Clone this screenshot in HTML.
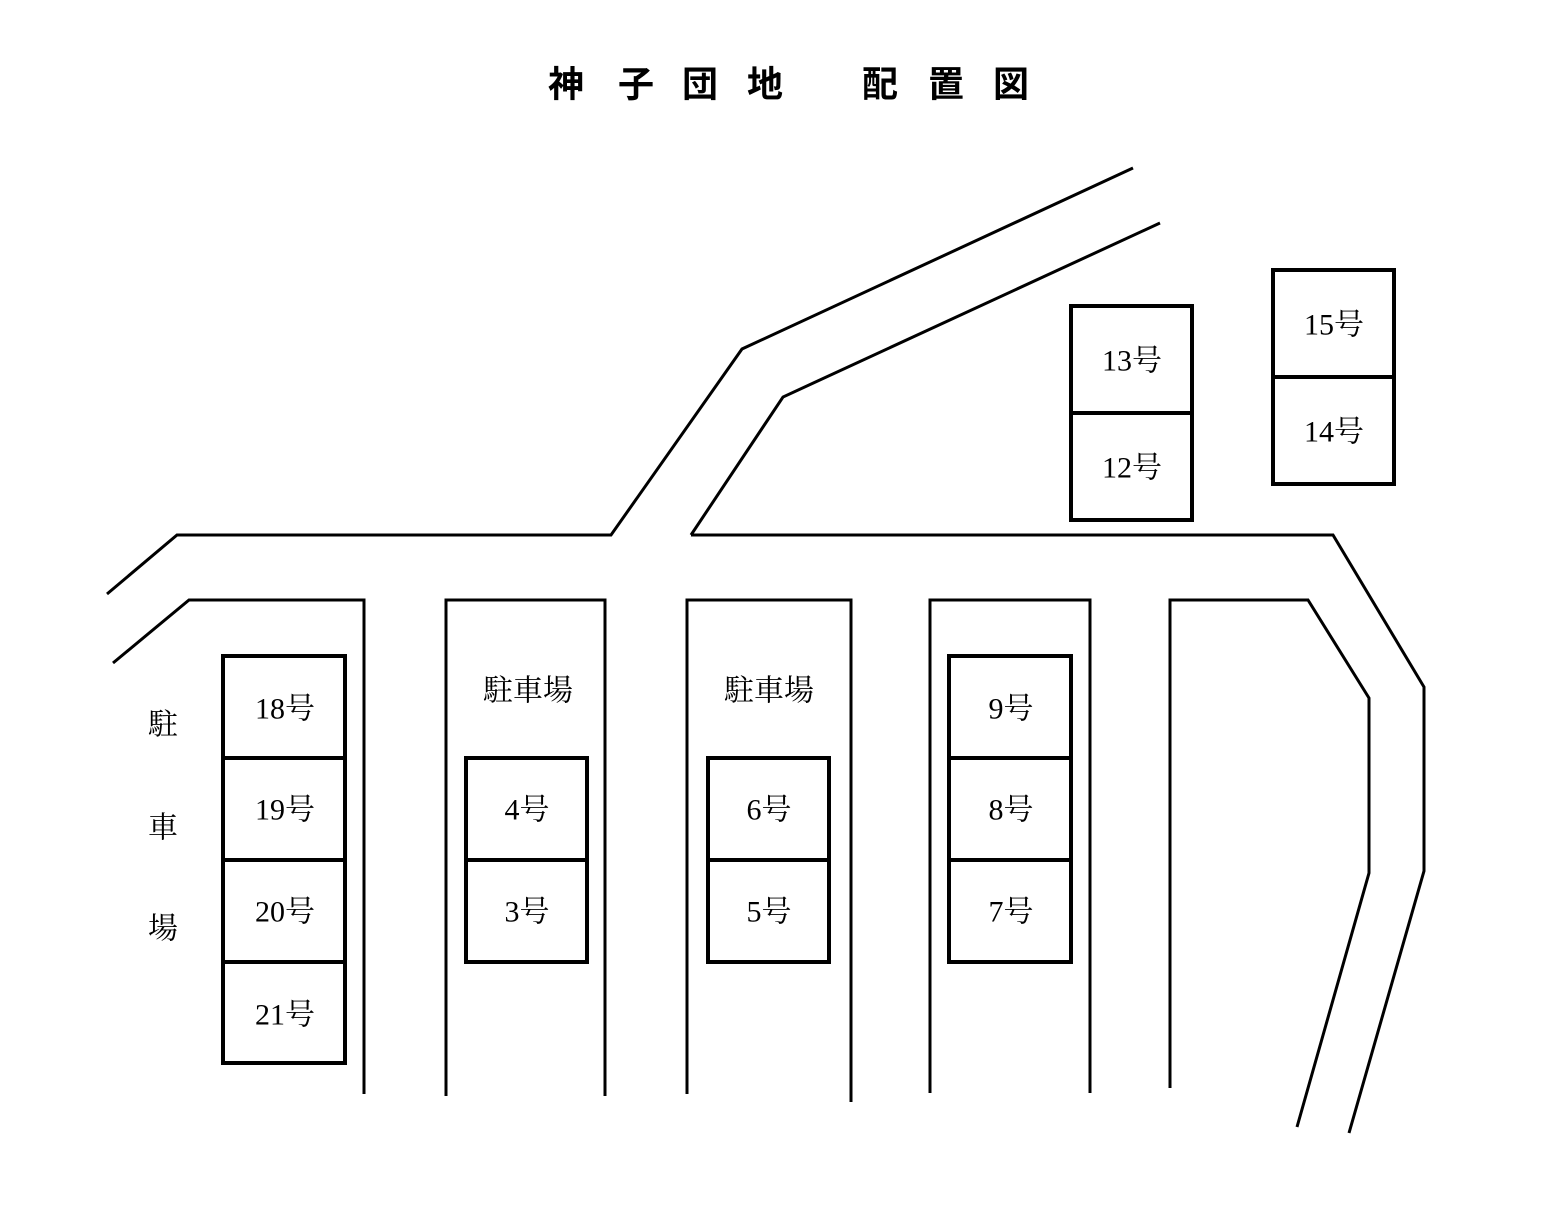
<!DOCTYPE html>
<html><head><meta charset="utf-8"><style>
html,body{margin:0;padding:0;background:#fff;}
svg{display:block}
.t{font-family:"Liberation Serif","Noto Serif CJK SC","Noto Sans CJK JP",serif;font-size:30px;fill:#000;text-anchor:middle;dominant-baseline:central}
.h{font-family:"Liberation Sans","Noto Sans CJK JP",sans-serif;font-size:36px;font-weight:bold;fill:#000;text-anchor:middle;dominant-baseline:central}
</style></head><body>
<svg width="1560" height="1227" viewBox="0 0 1560 1227" xmlns="http://www.w3.org/2000/svg">
<rect width="1560" height="1227" fill="#fff"/>
<g class="h">
<text x="566" y="84">神</text><text x="636" y="84">子</text><text x="700" y="84">団</text><text x="765" y="84">地</text>
<text x="880" y="84">配</text><text x="946" y="84">置</text><text x="1011" y="84">図</text>
</g>
<g fill="none" stroke="#000" stroke-width="3">
<polyline points="107,594 177,535 611,535 742,349 1133,168"/>
<polyline points="691,535 783,397 1160,223"/>
<polyline points="691,535 1333,535 1424,687 1424,871 1349,1133"/>
<polyline points="113,663 189,600 364,600 364,1094"/>
<polyline points="446,1096 446,600 605,600 605,1096"/>
<polyline points="687,1094 687,600 851,600 851,1102"/>
<polyline points="930,1093 930,600 1090,600 1090,1093"/>
<polyline points="1170,1088 1170,600 1308,600 1369,698 1369,873 1297,1127"/>
</g>
<g fill="none" stroke="#000" stroke-width="4">
<rect x="223" y="656" width="122" height="407"/>
<line x1="223" y1="758" x2="345" y2="758"/><line x1="223" y1="860" x2="345" y2="860"/><line x1="223" y1="962" x2="345" y2="962"/>
<rect x="466" y="758" width="121" height="204"/><line x1="466" y1="860" x2="587" y2="860"/>
<rect x="708" y="758" width="121" height="204"/><line x1="708" y1="860" x2="829" y2="860"/>
<rect x="949" y="656" width="122" height="306"/>
<line x1="949" y1="758" x2="1071" y2="758"/><line x1="949" y1="860" x2="1071" y2="860"/>
<rect x="1071" y="306" width="121" height="214"/><line x1="1071" y1="413" x2="1192" y2="413"/>
<rect x="1273" y="270" width="121" height="214"/><line x1="1273" y1="377" x2="1394" y2="377"/>
</g>
<g class="t">
<text x="285" y="709">18号</text><text x="285" y="810">19号</text><text x="285" y="912">20号</text><text x="285" y="1015">21号</text>
<text x="527" y="810">4号</text><text x="527" y="912">3号</text>
<text x="769" y="810">6号</text><text x="769" y="912">5号</text>
<text x="1011" y="709">9号</text><text x="1011" y="810">8号</text><text x="1011" y="912">7号</text>
<text x="1132" y="361">13号</text><text x="1132" y="468">12号</text>
<text x="1334" y="325">15号</text><text x="1334" y="432">14号</text>
<text x="528" y="691">駐車場</text><text x="769" y="691">駐車場</text>
<text x="163" y="725">駐</text><text x="163" y="828">車</text><text x="163" y="929">場</text>
</g>
</svg>
</body></html>
